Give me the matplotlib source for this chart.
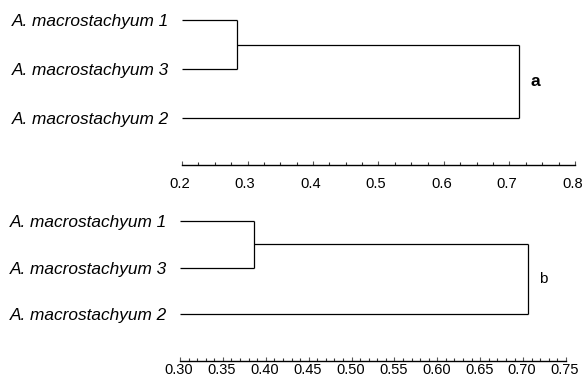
import matplotlib
matplotlib.use("Agg")
import matplotlib.pyplot as plt
from matplotlib.ticker import MultipleLocator
from matplotlib.transforms import ScaledTranslation

plt.rcParams['font.family'] = ['Liberation Sans', 'DejaVu Sans']

# leaf order from top to bottom
leaves = ["A. macrostachyum 1", "A. macrostachyum 3", "A. macrostachyum 2"]

# panel a: merge heights (1+3, then with 2)
a_merge13 = 0.2835
a_merge_all = 0.7145
a_xlim = (0.2, 0.8)
a_major = 0.1
a_minor = 0.025

# panel b
b_merge13 = 0.386
b_merge_all = 0.706
b_xlim = (0.30, 0.75)
b_major = 0.05
b_minor = 0.01

W, H = 583, 385
fig = plt.figure(figsize=(W / 100, H / 100), dpi=100)


def px_axes(left, right, top, bottom):
    return fig.add_axes([left / W, 1 - bottom / H, (right - left) / W, (bottom - top) / H])


def draw_dendro(ax, h13, hall, xlim, ylim, major, minor, tag, tag_weight,
                tag_size, tick_size, tick_pad, tick_fmt, label_shift):
    x0 = xlim[0]
    kw = dict(color="black", lw=0.9, solid_capstyle="butt")
    # leaves 1 and 3 joined at h13
    ax.plot([x0, h13], [1, 1], **kw)
    ax.plot([x0, h13], [2, 2], **kw)
    ax.plot([h13, h13], [1, 2], **kw)
    # cluster joined with leaf 2
    ax.plot([h13, hall], [1.5, 1.5], **kw)
    ax.plot([x0, hall], [3, 3], **kw)
    ax.plot([hall, hall], [1.5, 3], **kw)

    ax.set_xlim(*xlim)
    ax.set_ylim(*ylim)
    ax.set_yticks([1, 2, 3])
    ax.set_yticklabels(leaves, style="italic", fontsize=12.4)
    ax.tick_params(axis="y", length=0, pad=9)

    ax.xaxis.set_major_locator(MultipleLocator(major))
    ax.xaxis.set_minor_locator(MultipleLocator(minor))
    ax.xaxis.set_major_formatter(tick_fmt)
    ax.tick_params(axis="x", which="major", direction="in", length=3,
                   width=0.8, labelsize=tick_size, pad=tick_pad, color="#555555")
    ax.tick_params(axis="x", which="minor", direction="in", length=2,
                   width=0.8, color="#333333")
    # nudge tick labels a little to the left, as in the original
    shift = ScaledTranslation(label_shift / 100, 0, fig.dpi_scale_trans)
    for lab in ax.get_xticklabels():
        lab.set_transform(lab.get_transform() + shift)
    for s in ["top", "left", "right"]:
        ax.spines[s].set_visible(False)
    ax.spines["bottom"].set_linewidth(1.0)
    ax.patch.set_visible(False)

    ax.annotate(tag, xy=(hall, 2.25), xytext=(8, 0), textcoords="offset points",
                ha="left", va="center", fontsize=tag_size, fontweight=tag_weight)


ax_a = px_axes(182, 575, 5, 165)
draw_dendro(ax_a, a_merge13, a_merge_all, a_xlim, (3.96, 0.69),
            a_major, a_minor, "a", "bold", 12.5, 10.6, 8.5,
            plt.FuncFormatter(lambda v, p: f"{v:.1f}"), -2.5)

ax_b = px_axes(180, 566, 195, 361)
draw_dendro(ax_b, b_merge13, b_merge_all, b_xlim, (4.01, 0.44),
            b_major, b_minor, "b", "normal", 11, 10.5, 1.5,
            plt.FuncFormatter(lambda v, p: f"{v:.2f}"), -1)

fig.savefig("out.png", dpi=100)
